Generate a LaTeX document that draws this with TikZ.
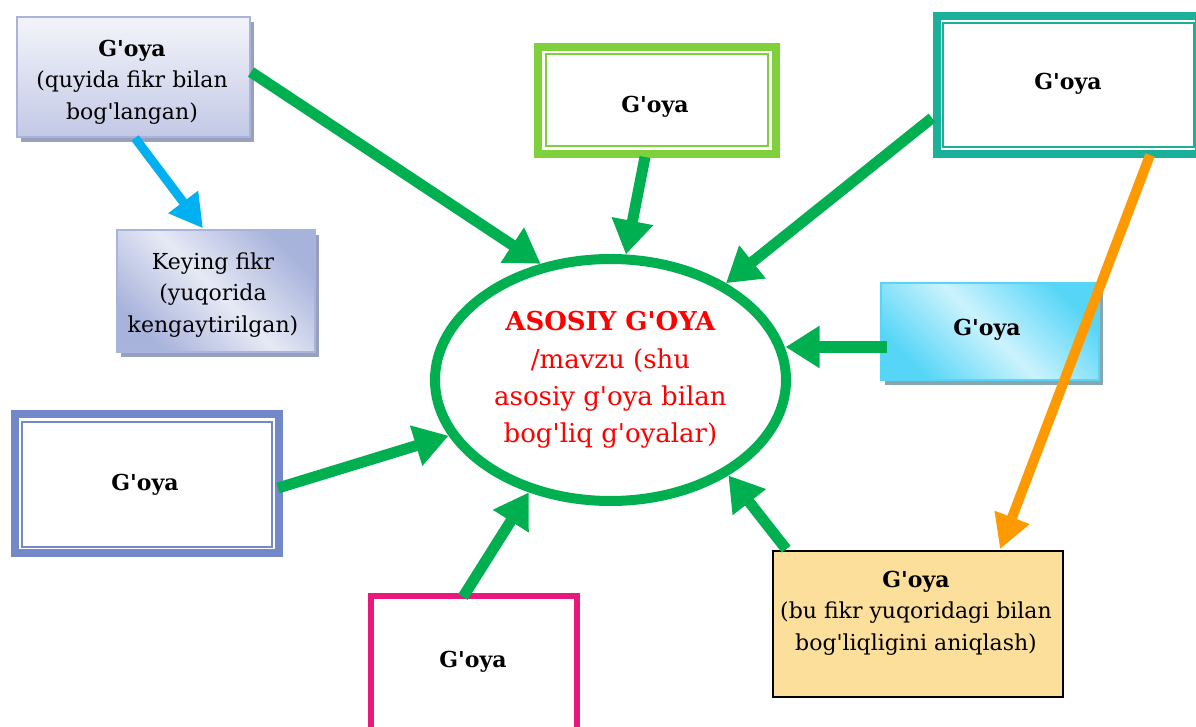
\documentclass[tikz,border=0pt]{standalone}
\usepackage{fontspec}
\setmainfont{DejaVu Serif}
\usetikzlibrary{arrows.meta,calc,shapes.geometric,shadows}

\definecolor{mygreen}{HTML}{00B050}
\definecolor{myblue}{HTML}{00B0F0}
\definecolor{myorange}{HTML}{FF9900}
\definecolor{limeframe}{HTML}{7FD13B}
\definecolor{tealframe}{HTML}{1BB09A}
\definecolor{slateframe}{HTML}{7388C8}
\definecolor{pinkframe}{HTML}{E8187C}
\definecolor{sandfill}{HTML}{FCDF9A}
\definecolor{lavtop}{HTML}{F3F4FA}
\definecolor{lavbot}{HTML}{C3C9E6}
\definecolor{lavedge}{HTML}{A9B4DC}
\definecolor{lavshadow}{HTML}{98A0BE}
\definecolor{kfdark}{HTML}{A8B3DB}
\definecolor{kflight}{HTML}{E6E9F5}
\definecolor{cydark}{HTML}{56D5F7}
\definecolor{cylight}{HTML}{CBF3FD}
\definecolor{cyshadow}{HTML}{86A7B1}

% straight apostrophe
\newcommand\sq{\textquotesingle}
\newcommand\bodyfont{\fontsize{16.5}{23.6}\selectfont}
\newcommand\mainfont{\fontsize{19.5}{28}\selectfont}

\tikzset{
  garrow/.style={draw=mygreen, line width=8.25pt,
    -{Triangle[length=25.5pt,width=30pt]}},
  barrow/.style={draw=myblue, line width=6.75pt,
    -{Triangle[length=24.75pt,width=26.25pt]}},
  oarrow/.style={draw=myorange, line width=7.5pt,
    -{Triangle[length=25.5pt,width=26.25pt]}},
  framebox/.style={draw=#1, line width=6pt, fill=white, rectangle, inner sep=0pt},
  innerline/.style={draw=#1, line width=1.5pt},
  label/.style={font=\bodyfont, align=center, inner sep=0pt},
  title/.style={font=\bodyfont\bfseries, inner sep=0pt, anchor=base},
}

\begin{document}
\begin{tikzpicture}[x=0.75pt,y=-0.75pt]
\useasboundingbox (0,0) rectangle (1196,727);
\clip (0,0) rectangle (1196,727);

% shaded boxes with a drop shadow
\node[rectangle, draw=lavedge, line width=1.5pt, top color=lavtop, bottom color=lavbot,
      minimum width=174.75pt, minimum height=90pt, inner sep=0pt,
      drop shadow={shadow xshift=3pt, shadow yshift=-3.5pt, fill=lavshadow, opacity=1}]
  (tl) at (133.5,77) {};
\node[label] (tltext) at (132,82) {\textbf{G\sq oya}\\(quyida fikr bilan\\bog\sq langan)};

\node[rectangle, draw=lavedge, line width=1pt, left color=kfdark, right color=kfdark,
      middle color=kflight, shading angle=135,
      minimum width=148.5pt, minimum height=91.5pt, inner sep=0pt,
      drop shadow={shadow xshift=3pt, shadow yshift=-3.5pt, fill=lavshadow, opacity=1}]
  (kf) at (216,291) {};
\node[label] (kftext) at (213,295) {Keying fikr\\(yuqorida\\kengaytirilgan)};

\node[rectangle, draw=cydark, line width=1.5pt, left color=cydark, right color=cydark,
      middle color=cylight, shading angle=135,
      minimum width=163.5pt, minimum height=72.75pt, inner sep=0pt,
      drop shadow={shadow xshift=3pt, shadow yshift=-3.5pt, fill=cyshadow, opacity=1}]
  (cy) at (990,331.5) {};
\node[title] (cytext) at (987,335) {G\sq oya};

% framed boxes with an inner line
\node[framebox=limeframe, minimum width=178.5pt, minimum height=80.25pt] (gb) at (657,100.5) {};
\draw[innerline=limeframe] ($(gb.center)+(-111,-46)$) rectangle ($(gb.center)+(111,46)$);
\node[title] (gbtext) at (655,113) {G\sq oya};

\node[framebox=tealframe, minimum width=196.5pt, minimum height=103.5pt] (teal) at (1068,85) {};
\draw[innerline=tealframe] ($(teal.center)+(-125,-62)$) rectangle ($(teal.center)+(126,62)$);
\node[title] (tealtext) at (1068,90) {G\sq oya};

\node[framebox=slateframe, minimum width=198pt, minimum height=104.25pt] (lb) at (147,483.5) {};
\draw[innerline=slateframe] ($(lb.center)+(-125,-61.5)$) rectangle ($(lb.center)+(125,63.5)$);
\node[title] (lbtext) at (145,490) {G\sq oya};

\node[rectangle, draw=pinkframe, line width=4.5pt, fill=white, inner sep=0pt,
      minimum width=154.5pt, minimum height=123pt] (pk) at (474,678) {};
\node[title] (pktext) at (473,667) {G\sq oya};

\node[rectangle, draw=black, line width=1.2pt, fill=sandfill, inner sep=0pt,
      minimum width=217.5pt, minimum height=109.5pt] (yl) at (918,624) {};
\node[label] (yltext) at (916,613) {\textbf{G\sq oya}\\(bu fikr yuqoridagi bilan\\bog\sq liqligini aniqlash)};

% central idea
\node[ellipse, draw=mygreen, line width=7.5pt, fill=white, inner sep=0pt,
      minimum width=263.25pt, minimum height=181.5pt,
      font=\mainfont, text=red, align=center]
  (ell) at (610.5,380)
  {\textbf{ASOSIY G\sq OYA}\\/mavzu (shu\\asosiy g\sq oya bilan\\bog\sq liq g\sq oyalar)};

% connectors
\coordinate (cytail) at ($(cy.west)+(7,15.5)$);
\draw[garrow] ($(tl.east)+(0,-5)$) -- (ell.121.8);
\draw[garrow] ($(gb.south)+(-12,-1)$) -- (ell.83.4);
\draw[garrow] ($(teal.west)+(-1,33)$) -- (ell.40.3);
\draw[garrow] (cytail) -- (ell.10.7 |- cytail);
\draw[garrow] ($(lb.east)+(-5,4.5)$) -- (ell.199.6);
\draw[garrow] ($(pk.north)+(-11,4)$) -- (ell.234.3);
\draw[garrow] ($(yl.north west)+(14,-1)$) -- (ell.321.5);
\draw[barrow] ($(tl.south)+(1.5,0)$) -- ($(kf.north)+(-13,-1)$);
\draw[oarrow] ($(teal.south)+(82,-3)$) -- ($(yl.north)+(82,-1)$);
\end{tikzpicture}
\end{document}
